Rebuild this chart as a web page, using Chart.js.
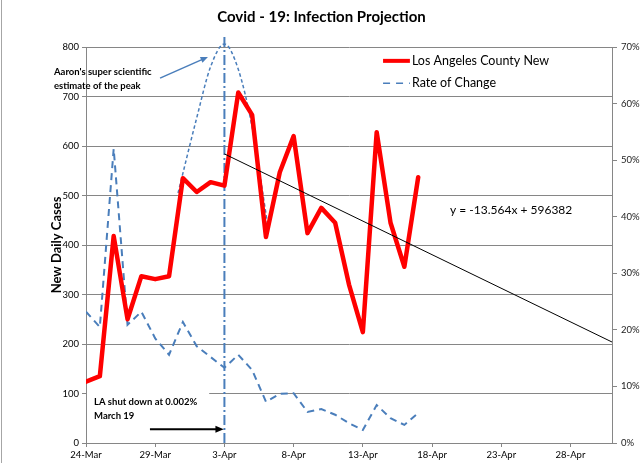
<!DOCTYPE html>
<html>
<head>
<meta charset="utf-8">
<script src="https://cdn.jsdelivr.net/npm/chart.js@4.4.0/dist/chart.umd.min.js"></script>
<style>
  html, body { margin: 0; padding: 0; background: #fff; }
  canvas { display: block; }
</style>
</head>
<body>
<canvas id="chart" width="640" height="463"></canvas>
<script>
// observed days, 24-Mar .. 17-Apr
const dates = ['24-Mar', '25-Mar', '26-Mar', '27-Mar', '28-Mar', '29-Mar', '30-Mar', '31-Mar',
  '1-Apr', '2-Apr', '3-Apr', '4-Apr', '5-Apr', '6-Apr', '7-Apr', '8-Apr', '9-Apr', '10-Apr',
  '11-Apr', '12-Apr', '13-Apr', '14-Apr', '15-Apr', '16-Apr', '17-Apr'];
const newCases = [124, 135, 418, 250, 337, 331, 337, 535, 507, 527, 520, 708, 663, 416, 547,
  620, 424, 475, 445, 320, 224, 628, 445, 356, 537];
const rateOfChange = [23.2, 20.5, 52, 20.9, 23.2, 18.5, 15.6, 21.4, 17.1, 15.2, 13.3, 15.6, 12.9,
  7.3, 8.7, 8.8, 5.5, 6, 5, 3.5, 2.3, 6.7, 4.4, 3.2, 5.3];

// hand drawn "peak estimate" curve (days since 24-Mar, cases)
const peakDays = [6.65, 8, 9, 10, 11, 12, 13.15];
const peakCases = [505, 657, 760, 806, 755, 638, 436];

// linear trendline, from 3-Apr to the right edge
const trendDays = [10, 38];
const trendCases = [584, 204];

// vertical marker at 3-Apr
const markerDay = 10;
const markerTop = 822;

const xTickLabels = ['24-Mar', '29-Mar', '3-Apr', '8-Apr', '13-Apr', '18-Apr', '23-Apr', '28-Apr'];
const legendLabels = ['Los Angeles County New', 'Rate of Change'];

const FONT = 'Lato';
const BLUE = '#4a7ebb';
const GRID = '#868686';

function pts(xs, ys) {
  return xs.map((x, i) => ({ x: x, y: ys[i] }));
}

function arrow(ctx, x1, y1, x2, y2, color, width, head) {
  const a = Math.atan2(y2 - y1, x2 - x1);
  ctx.save();
  ctx.strokeStyle = color;
  ctx.fillStyle = color;
  ctx.lineWidth = width;
  ctx.beginPath();
  ctx.moveTo(x1, y1);
  ctx.lineTo(x2 - Math.cos(a) * head * 0.6, y2 - Math.sin(a) * head * 0.6);
  ctx.stroke();
  ctx.beginPath();
  ctx.moveTo(x2, y2);
  ctx.lineTo(x2 - head * Math.cos(a - 0.4), y2 - head * Math.sin(a - 0.4));
  ctx.lineTo(x2 - head * Math.cos(a + 0.4), y2 - head * Math.sin(a + 0.4));
  ctx.closePath();
  ctx.fill();
  ctx.restore();
}

const notes = {
  id: 'notes',
  beforeDatasetsDraw(chart) {
    const ctx = chart.ctx;
    const x = chart.scales.x, y = chart.scales.y;
    // frame edge on the left
    ctx.save();
    ctx.strokeStyle = '#a6a6a6';
    ctx.lineWidth = 1;
    ctx.beginPath();
    ctx.moveTo(1.5, 0);
    ctx.lineTo(1.5, chart.height);
    ctx.stroke();
    // white box behind the shutdown note
    ctx.fillStyle = '#fff';
    const bx = x.getPixelForValue(0.07), bx2 = x.getPixelForValue(8.9);
    const by = y.getPixelForValue(118), by2 = y.getPixelForValue(40);
    ctx.fillRect(bx, by, bx2 - bx, by2 - by);
    ctx.restore();
  },
  afterDatasetsDraw(chart) {
    const ctx = chart.ctx;
    const x = chart.scales.x, y = chart.scales.y;
    ctx.save();
    ctx.fillStyle = '#000';
    ctx.textBaseline = 'middle';
    ctx.textAlign = 'left';

    // peak note
    ctx.font = 'bold 9.5px ' + FONT;
    ctx.fillText("Aaron's super scientific", 54, y.getPixelForValue(749));
    ctx.fillText('estimate of the peak', 54, y.getPixelForValue(721));
    arrow(ctx, x.getPixelForValue(5.35), y.getPixelForValue(737),
      x.getPixelForValue(8.81), y.getPixelForValue(780), BLUE, 1.5, 8);

    // shutdown note
    ctx.fillText('LA shut down at 0.002%', x.getPixelForValue(0.58), y.getPixelForValue(83));
    ctx.fillText('March 19', x.getPixelForValue(0.58), y.getPixelForValue(55));
    arrow(ctx, x.getPixelForValue(4.62), y.getPixelForValue(28),
      x.getPixelForValue(9.95), y.getPixelForValue(28), '#000', 2, 9);

    // trendline equation
    ctx.font = '12px ' + FONT;
    ctx.fillText('y = -13.564x + 596382', x.getPixelForValue(26.3), y.getPixelForValue(471));

    // legend
    const lx = x.getPixelForValue(21.46), lx2 = x.getPixelForValue(23.4);
    const r1 = y.getPixelForValue(772), r2 = y.getPixelForValue(727);
    ctx.strokeStyle = '#ff0000';
    ctx.lineWidth = 4;
    ctx.beginPath();
    ctx.moveTo(lx, r1);
    ctx.lineTo(lx2, r1);
    ctx.stroke();
    ctx.strokeStyle = BLUE;
    ctx.lineWidth = 1.5;
    ctx.setLineDash([7, 6]);
    ctx.beginPath();
    ctx.moveTo(lx, r2);
    ctx.lineTo(lx2, r2);
    ctx.stroke();
    ctx.setLineDash([]);
    ctx.font = '12.5px ' + FONT;
    ctx.fillText(legendLabels[0], lx2 + 2, r1);
    ctx.fillText(legendLabels[1], lx2 + 2, r2);
    ctx.restore();
  }
};

const tickFont = { family: FONT, size: 9.5 };

new Chart(document.getElementById('chart'), {
  type: 'line',
  data: {
    datasets: [
      {
        label: 'trend',
        data: pts(trendDays, trendCases),
        yAxisID: 'y',
        borderColor: '#000',
        borderWidth: 1,
        pointRadius: 0,
        order: 0
      },
      {
        label: legendLabels[0],
        data: pts(dates.map((d, i) => i), newCases),
        yAxisID: 'y',
        borderColor: '#ff0000',
        borderWidth: 4.5,
        borderJoinStyle: 'round',
        borderCapStyle: 'round',
        pointRadius: 0,
        order: 1
      },
      {
        label: legendLabels[1],
        data: pts(dates.map((d, i) => i), rateOfChange),
        yAxisID: 'y1',
        borderColor: BLUE,
        borderWidth: 2,
        borderDash: [7, 5],
        pointRadius: 0,
        order: 2
      },
      {
        label: 'peak',
        data: pts(peakDays, peakCases),
        yAxisID: 'y',
        borderColor: BLUE,
        borderWidth: 1.5,
        borderDash: [3.5, 2.5],
        cubicInterpolationMode: 'monotone',
        pointRadius: 0,
        clip: false,
        order: 3
      },
      {
        label: 'marker',
        data: pts([markerDay, markerDay], [0, markerTop]),
        yAxisID: 'y',
        borderColor: BLUE,
        borderWidth: 2,
        borderDash: [10, 3, 2, 3],
        pointRadius: 0,
        clip: false,
        order: 4
      }
    ]
  },
  options: {
    responsive: false,
    animation: false,
    events: [],
    devicePixelRatio: 1,
    layout: { padding: { left: 3, right: 0, top: 0, bottom: 0 } },
    plugins: {
      legend: { display: false },
      tooltip: { enabled: false },
      title: {
        display: true,
        text: 'Covid - 19: Infection Projection',
        color: '#000',
        font: { family: FONT, size: 15, weight: 'bold', lineHeight: 1.2 },
        padding: { top: 8, bottom: 21 }
      }
    },
    scales: {
      x: {
        type: 'linear',
        min: 0,
        max: 38,
        afterBuildTicks: s => { s.ticks = xTickLabels.map((t, i) => ({ value: i * 5 })); },
        ticks: {
          autoSkip: false,
          maxRotation: 0,
          color: '#000',
          font: tickFont,
          padding: 2,
          callback: v => xTickLabels[Math.round(v / 5)]
        },
        grid: { drawOnChartArea: false, tickLength: 4, color: GRID },
        border: { color: GRID },
        afterFit: s => { s.height = 20; }
      },
      y: {
        position: 'left',
        min: 0,
        max: 800,
        ticks: { stepSize: 100, color: '#000', font: tickFont, padding: 3 },
        grid: { color: GRID, tickLength: 4 },
        border: { color: GRID },
        title: {
          display: true,
          text: 'New Daily Cases',
          color: '#000',
          font: { family: FONT, size: 13, weight: 'bold', lineHeight: 1.2 },
          padding: { top: 46, bottom: 0 }
        },
        afterFit: s => { s.width = 83; }
      },
      y1: {
        position: 'right',
        min: 0,
        max: 70,
        ticks: { stepSize: 10, color: '#222', font: tickFont, padding: 4, callback: v => v + '%' },
        grid: { drawOnChartArea: false, tickLength: 5, color: GRID },
        border: { color: GRID },
        afterFit: s => { s.width = 28; }
      }
    }
  },
  plugins: [notes]
});
</script>
</body>
</html>
